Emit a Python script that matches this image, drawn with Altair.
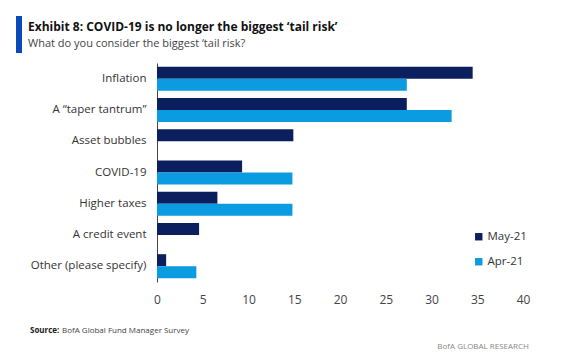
import altair as alt
import pandas as pd

categories = ["Inflation", "A \u201ctaper tantrum\u201d", "Asset bubbles", "COVID-19",
              "Higher taxes", "A credit event", "Other (please specify)"]
may21 = [34.5, 27.3, 14.9, 9.3, 6.6, 4.6, 1.0]
apr21 = [27.3, 32.2, 0.0, 14.8, 14.8, 0.0, 4.3]
series = ["May-21", "Apr-21"]
colors = ["#0b1f5e", "#0a9be0"]
x_ticks = [0, 5, 10, 15, 20, 25, 30, 35, 40]

rows = []
for c, m, a in zip(categories, may21, apr21):
    rows.append({"category": c, "series": "May-21", "value": m})
    rows.append({"category": c, "series": "Apr-21", "value": a})
df = pd.DataFrame(rows)

FONT = "Open Sans, sans-serif"

W, H = 366, 219

bars = alt.Chart(df).mark_bar().encode(
    y=alt.Y("category:N", sort=categories,
            scale=alt.Scale(paddingInner=0.23, paddingOuter=0.12),
            axis=alt.Axis(title=None, ticks=False, domain=True, domainColor="#444444",
                          labelFont=FONT, labelFontSize=11.5, labelColor="#333333",
                          labelPadding=11, labelLimit=200)),
    yOffset=alt.YOffset("series:N", sort=series),
    x=alt.X("value:Q", scale=alt.Scale(domain=[0, 40], nice=False),
            axis=alt.Axis(title=None, values=x_ticks, grid=False, domain=False, ticks=False,
                          labelFlush=False,
                          labelFont=FONT, labelFontSize=12, labelColor="#444444",
                          labelPadding=12)),
    color=alt.Color("series:N", sort=series,
                    scale=alt.Scale(domain=series, range=colors),
                    legend=alt.Legend(title=None, orient="none", legendX=316, legendY=168,
                                      symbolType="square", symbolSize=55, symbolStrokeWidth=0,
                                      labelFont=FONT, labelFontSize=11.5, labelColor="#333333",
                                      rowPadding=12, labelOffset=3)),
)

def txt(s, x, y, size, weight="normal", color="#222222", align="left"):
    return alt.Chart(pd.DataFrame({"t": [s]})).mark_text(
        text=s, align=align, baseline="alphabetic", font=FONT, fontSize=size,
        fontWeight=weight, color=color
    ).encode(x=alt.value(x), y=alt.value(y))

title_bar = alt.Chart(pd.DataFrame({"a": [0]})).mark_rule(color="#0a4ab8", strokeWidth=6).encode(
    x=alt.value(19 - 157), y=alt.value(16 - 63), y2=alt.value(53 - 63))

chart = alt.layer(
    bars,
    title_bar,
    txt("Exhibit 8: COVID-19 is no longer the biggest \u2018tail risk\u2019", 28 - 157, 31 - 63, 12, "bold", "#111111"),
    txt("What do you consider the biggest \u2018tail risk?", 28 - 157, 47 - 63, 11, "normal", "#444444"),
    txt("Source:", 30 - 157, 333 - 63, 8, "bold", "#222222"),
    txt("BofA Global Fund Manager Survey", 62 - 157, 333 - 63, 8, "normal", "#444444"),
    txt("BofA GLOBAL RESEARCH", 529 - 157, 349 - 63, 8, "normal", "#888888", "right"),
).properties(
    width=W, height=H,
    autosize=alt.AutoSizeParams(type="none"),
    padding={"left": 157, "top": 63, "right": 39, "bottom": 74},
    background="white",
).configure_view(stroke=None)

chart.save("out.html", embed_options={"renderer": "svg", "actions": False})
